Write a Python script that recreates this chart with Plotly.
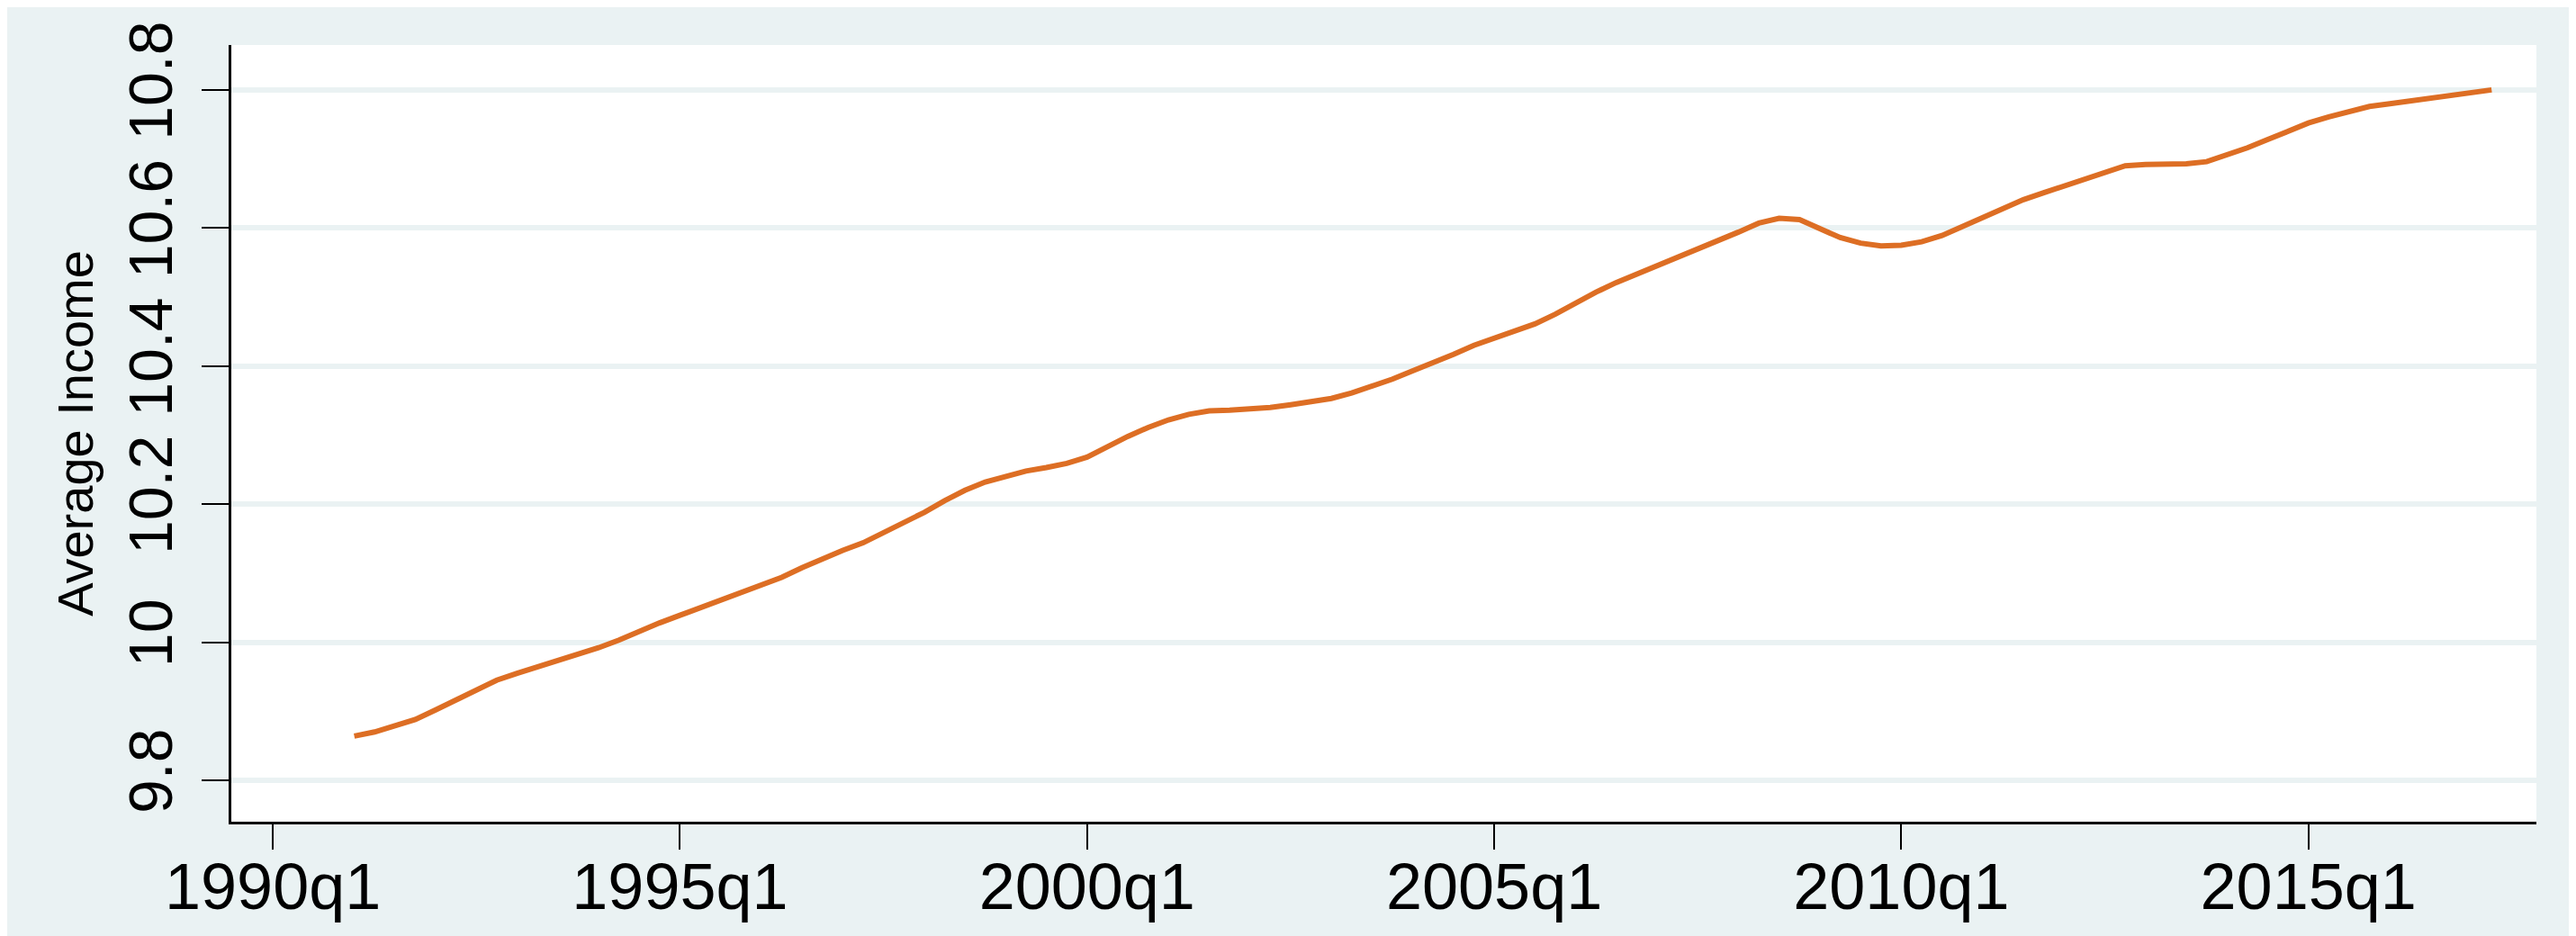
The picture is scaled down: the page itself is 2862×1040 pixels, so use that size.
import plotly.graph_objects as go

# Quarterly series, 1991q1 .. 2017q2 (quarter index: 0 = 1990q1)
start_q = 4
income = [
    9.864, 9.870, 9.879, 9.888, 9.902, 9.917, 9.932, 9.945, 9.955, 9.964,
    9.973, 9.982, 9.992, 10.003, 10.016, 10.028, 10.039, 10.050, 10.060, 10.070,
    10.081, 10.094, 10.108, 10.121, 10.133, 10.144, 10.158, 10.172, 10.188, 10.205,
    10.220, 10.232, 10.241, 10.248, 10.253, 10.259, 10.268, 10.284, 10.298, 10.311,
    10.322, 10.330, 10.335, 10.336, 10.338, 10.340, 10.344, 10.348, 10.353, 10.361,
    10.370, 10.381, 10.393, 10.404, 10.417, 10.430, 10.441, 10.451, 10.461, 10.475,
    10.492, 10.507, 10.521, 10.533, 10.546, 10.558, 10.570, 10.580, 10.594, 10.607,
    10.614, 10.612, 10.600, 10.586, 10.578, 10.574, 10.575, 10.580, 10.589, 10.602,
    10.615, 10.628, 10.641, 10.651, 10.661, 10.671, 10.681, 10.690, 10.692, 10.693,
    10.693, 10.696, 10.705, 10.716, 10.728, 10.741, 10.752, 10.761, 10.769, 10.776,
    10.780, 10.784, 10.788, 10.792, 10.796, 10.800,
]
quarter_index = list(range(start_q, start_q + len(income)))
quarter_label = [f"{1990 + q // 4}q{q % 4 + 1}" for q in quarter_index]

x_tickvals = [0, 20, 40, 60, 80, 100]
x_ticktext = ["1990q1", "1995q1", "2000q1", "2005q1", "2010q1", "2015q1"]
y_tickvals = [9.8, 10.0, 10.2, 10.4, 10.6, 10.8]
y_ticktext = ["9.8", "10", "10.2", "10.4", "10.6", "10.8"]

BG = "rgb(234,242,243)"
LINE = "rgb(221,110,36)"
FONT = "Liberation Sans, Arial, Helvetica, sans-serif"

fig = go.Figure()
fig.add_trace(go.Scatter(
    x=quarter_index, y=income, text=quarter_label, mode="lines",
    line=dict(color=LINE, width=6), hovertemplate="%{text}: %{y}<extra></extra>",
))

fig.update_layout(
    width=2862, height=1040,
    paper_bgcolor=BG, plot_bgcolor="white",
    margin=dict(l=249, r=52, t=42, b=135, autoexpand=False),
    showlegend=False,
    font=dict(family=FONT, color="black"),
)
fig.update_xaxes(
    range=[-2.04, 111.2], tickvals=x_tickvals, ticktext=x_ticktext,
    showgrid=False, zeroline=False, automargin=False,
    showline=True, linecolor="black", linewidth=3,
    ticks="outside", ticklen=28, tickwidth=2, tickcolor="black",
    tickfont=dict(size=72, family=FONT), ticklabelstandoff=-20,
)
fig.update_yaxes(
    range=[9.740, 10.865], tickvals=y_tickvals, ticktext=y_ticktext,
    showgrid=True, gridcolor=BG, gridwidth=6, zeroline=False, automargin=False,
    showline=True, linecolor="black", linewidth=3,
    ticks="outside", ticklen=30, tickwidth=2, tickcolor="black",
    tickangle=-90, tickfont=dict(size=68, family=FONT), ticklabelstandoff=6,
    title=dict(text="Average Income", font=dict(size=56, family=FONT), standoff=8),
)

fig.write_html("out.html")
